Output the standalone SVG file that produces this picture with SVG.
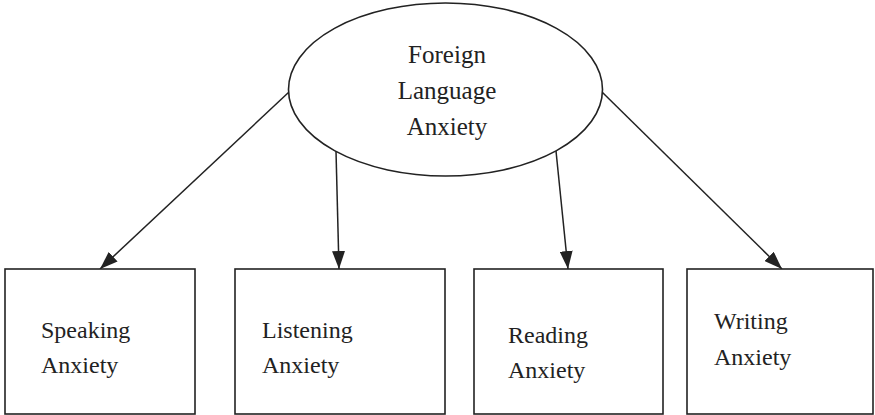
<svg xmlns="http://www.w3.org/2000/svg" width="875" height="415" viewBox="0 0 875 415">
<style>
.shape{fill:#fff;stroke:#222;stroke-width:1.6}
.edge{stroke:#222;stroke-width:1.5;fill:none}
text{font-family:"Liberation Serif","Times New Roman",serif;fill:#222}
.t1{font-size:25px;text-anchor:middle}
.t2{font-size:24px}
</style>
<defs>
<marker id="ah" viewBox="0 0 18 13" refX="18" refY="6.5" markerWidth="18" markerHeight="13" markerUnits="userSpaceOnUse" orient="auto">
<path d="M0,0 L18,6.5 L0,13 Z" fill="#222"/>
</marker>
</defs>
<rect width="875" height="415" fill="#fff"/>
<g id="connectors">
<line class="edge" x1="289" y1="92" x2="100" y2="269" marker-end="url(#ah)"/>
<line class="edge" x1="336" y1="151" x2="339" y2="269" marker-end="url(#ah)"/>
<line class="edge" x1="556" y1="151" x2="568" y2="269" marker-end="url(#ah)"/>
<line class="edge" x1="602" y1="92" x2="782" y2="269" marker-end="url(#ah)"/>
</g>
<g id="fla">
<ellipse class="shape" cx="445.5" cy="89.5" rx="157" ry="86.5"/>
<text class="t1" x="447" y="63">Foreign</text>
<text class="t1" x="447" y="99">Language</text>
<text class="t1" x="447" y="135">Anxiety</text>
</g>
<g id="speaking">
<rect class="shape" x="5" y="269" width="190" height="145"/>
<text class="t2" x="41" y="338">Speaking</text>
<text class="t2" x="41" y="373">Anxiety</text>
</g>
<g id="listening">
<rect class="shape" x="235" y="269" width="210" height="145"/>
<text class="t2" x="262" y="338">Listening</text>
<text class="t2" x="262" y="373">Anxiety</text>
</g>
<g id="reading">
<rect class="shape" x="474" y="269" width="189" height="145"/>
<text class="t2" x="508" y="343">Reading</text>
<text class="t2" x="508" y="378">Anxiety</text>
</g>
<g id="writing">
<rect class="shape" x="687" y="269" width="186" height="145"/>
<text class="t2" x="714" y="329">Writing</text>
<text class="t2" x="714" y="365">Anxiety</text>
</g>
</svg>
